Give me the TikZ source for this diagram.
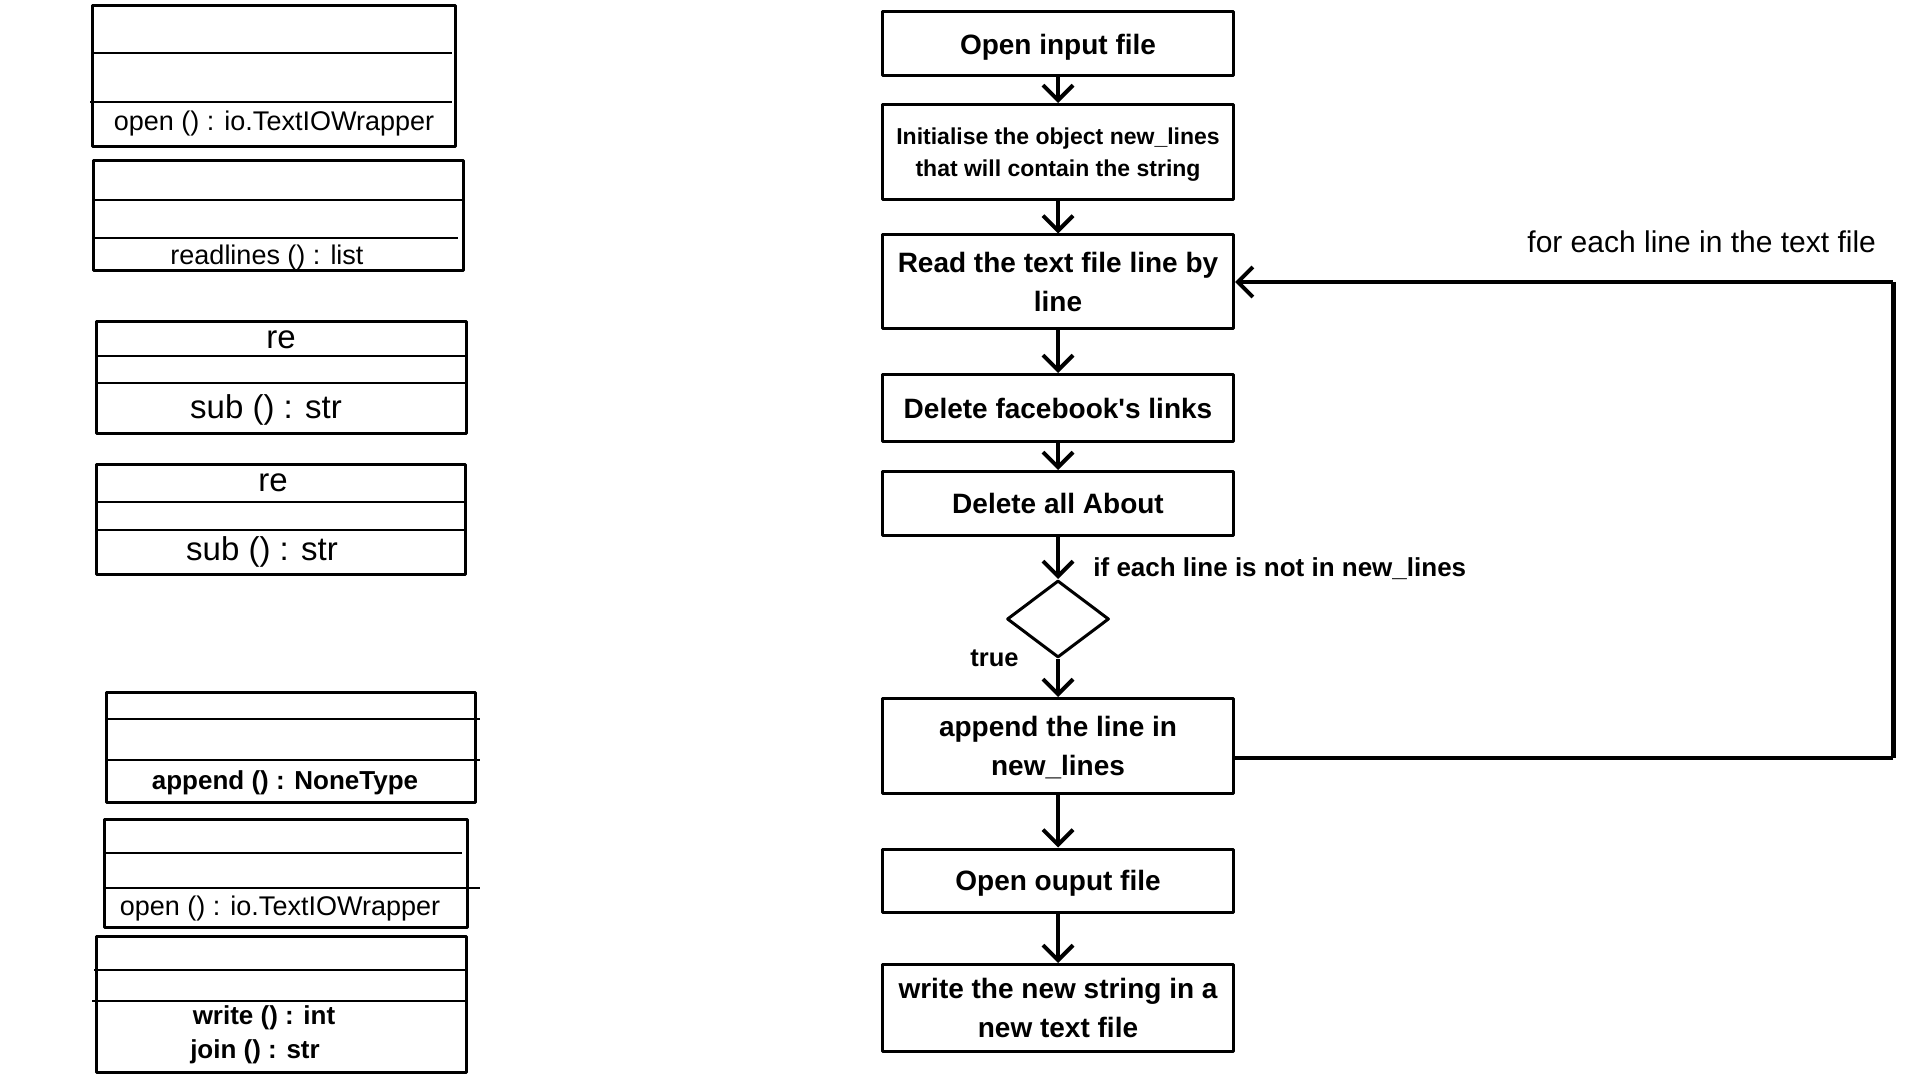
\documentclass[tikz,border=0pt]{standalone}
\usepackage{fontspec}
\setmainfont{Liberation Sans}
\usetikzlibrary{arrows.meta,shapes.geometric}
\newcommand{\fsz}[2]{\fontsize{#1}{#2}\selectfont}

\begin{document}
\begin{tikzpicture}[x=0.5pt,y=-0.5pt,line join=round,
  flow/.style={draw,line width=1.5pt,minimum width=175.5pt,inner sep=0pt,align=center,font=\bfseries\fsz{14pt}{19.5pt}},
  arr/.style={line width=2pt,-{Straight Barb[length=7.5pt,width=15pt]}},
  uml/.style={line width=1.5pt},
  sep/.style={line width=1pt},
  meth/.style={anchor=base,inner sep=0pt,font=\fsz{13.5pt}{16pt}},
  lbl/.style={anchor=base west,inner sep=0pt}]
\useasboundingbox (0,0) rectangle (1920,1080);
% classes on the left
\draw[uml] (92,6) rectangle (455,147);
\draw[sep] (92,53)--(452,53) (90,102)--(452,102);
\node[meth] (openA) at (274,131) {open () : io.TextIOWrapper};
\draw[uml] (93,161) rectangle (463,271);
\draw[sep] (95,200)--(465,200) (95,238)--(458,238);
\node[meth] (readl) at (267,265) {readlines () : list};
\draw[uml] (96,322) rectangle (466,433);
\draw[sep] (96,356)--(468,356) (96,383)--(468,383);
\node[meth,font=\fsz{16.5pt}{20pt}] (reA) at (281,349) {re};
\node[meth,font=\fsz{16.5pt}{20pt}] (subA) at (266,418) {sub () : str};
\draw[uml] (96,464) rectangle (465,574);
\draw[sep] (96,502)--(465,502) (96,530)--(465,530);
\node[meth,font=\fsz{16.5pt}{20pt}] (reB) at (273,491) {re};
\node[meth,font=\fsz{16.5pt}{20pt}] (subB) at (262,560) {sub () : str};
\draw[uml] (106,692) rectangle (475,802);
\draw[sep] (108,719)--(480,719) (108,760)--(480,760);
\node[meth,font=\bfseries\fsz{13pt}{16pt}] (appendM) at (285,789) {append () : NoneType};
\draw[uml] (104,819) rectangle (467,927);
\draw[sep] (106,853)--(462,853) (106,888)--(480,888);
\node[meth] (openB) at (280,915) {open () : io.TextIOWrapper};
\draw[uml] (96,936) rectangle (466,1072);
\draw[sep] (94,970)--(467,970) (92,1001)--(466,1001);
\node[meth,font=\bfseries\fsz{13pt}{16pt}] (writeM) at (264,1024) {write () : int};
\node[meth,font=\bfseries\fsz{13pt}{16pt}] (joinM) at (255,1058) {join () : str};
% flowchart
\node[flow,minimum height=32pt,text depth=0pt] (openIn) at (1058,44) {Open input file};
\node[flow,minimum height=47.5pt,text depth=0pt,font=\bfseries\fsz{11.5pt}{16pt}] (initNl) at (1058,152) {Initialise the object new\_lines\\that will contain the string};
\node[flow,minimum height=47pt] (readTf) at (1058,282) {Read the text file line by\\line};
\node[flow,minimum height=33.5pt] (delFb) at (1058,408) {Delete facebook{\textquotesingle}s links};
\node[flow,minimum height=32pt] (delAb) at (1058,503.5) {Delete all About};
\node[diamond,draw,line width=1.5pt,minimum width=51pt,minimum height=38.5pt,inner sep=0pt] (test) at (1058,619) {};
\node[flow,minimum height=47.5pt,text depth=0pt] (appNl) at (1058,746) {append the line in\\new\_lines};
\node[flow,minimum height=31.5pt,text depth=0pt] (openOut) at (1058,880.5) {Open ouput file};
\node[flow,minimum height=43.5pt] (writeOut) at (1058,1008) {write the new string in a\\new text file};
\draw[arr] (openIn)--(initNl);
\draw[arr] (initNl)--(readTf);
\draw[arr] (readTf)--(delFb);
\draw[arr] (delFb)--(delAb);
\draw[arr] (delAb)--(test);
\draw[arr] (test)--(appNl);
\draw[arr] (appNl)--(openOut);
\draw[arr] (openOut)--(writeOut);
% loop back
\coordinate (loopR) at (1893,758);
\coordinate (loopT) at (1893,282);
\draw[line width=2pt] (appNl.east |- loopR)--(loopR);
\draw[line width=2.5pt] (loopR)--(loopT);
\draw[arr] (loopT)--(readTf.east);
\node[lbl,font=\fsz{15pt}{18pt}] (loopLbl) at (1527,253) {for each line in the text file};
\node[lbl,font=\bfseries\fsz{13pt}{16pt}] (condLbl) at (1093,576) {if each line is not in new\_lines};
\node[lbl,font=\bfseries\fsz{12.75pt}{16pt}] (trueLbl) at (970,666) {true};
\end{tikzpicture}
\end{document}
